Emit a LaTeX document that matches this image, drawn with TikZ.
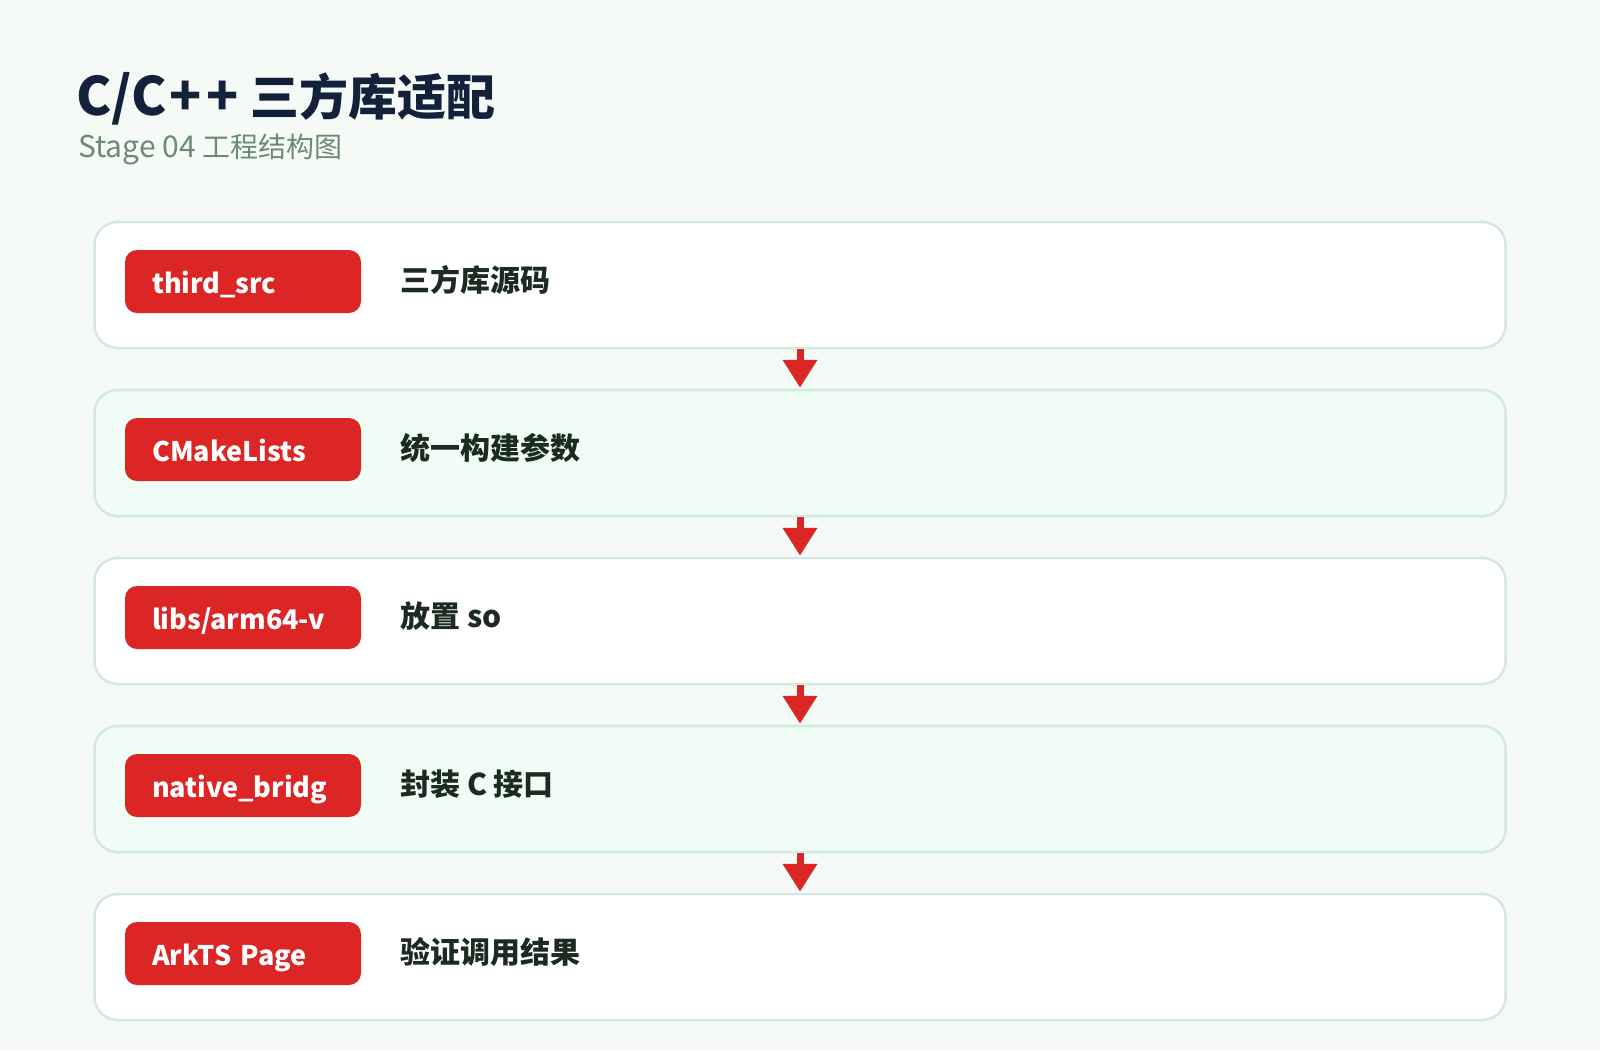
\documentclass[tikz,border=0pt]{standalone}
\usepackage{fontspec}
\setmainfont{Noto Sans CJK SC}
\usetikzlibrary{arrows.meta}
\definecolor{bgc}{HTML}{F5FAF7}
\definecolor{bordc}{HTML}{D4EAE0}
\definecolor{mint}{HTML}{F0FDF7}
\definecolor{redc}{HTML}{DC2626}
\definecolor{titlec}{HTML}{14213A}
\definecolor{subc}{HTML}{6B8A78}
\definecolor{descc}{HTML}{1B2B22}
\tikzset{
  card/.style={draw=bordc, line width=2.5pt, rounded corners=23pt, minimum width=1411pt, minimum height=126pt, inner sep=0pt},
  pill/.style={fill=redc, rounded corners=12pt, text=white, font=\bfseries\fontsize{27}{30}\selectfont,
    inner xsep=27pt, inner ysep=0pt, text width=182pt, align=left, minimum height=63pt, text height=26pt, text depth=3pt},
  desc/.style={anchor=base west, inner sep=0pt, text=descc, font=\bfseries\fontsize{30}{34}\selectfont},
  flow/.style={draw=redc, line width=7pt, -{Triangle[width=33pt,length=28pt]}, shorten >=1pt}
}
\begin{document}
\begin{tikzpicture}[x=1pt,y=-1pt]
\useasboundingbox (0,0) rectangle (1600,1050);
\fill[bgc] (0,0) rectangle (1600,1050);
\node[anchor=base west, inner sep=0pt, text=titlec, font=\bfseries\fontsize{49}{52}\selectfont] (title) at (76,115) {{\fontsize{53}{56}\selectfont C/C\kern3pt+\kern5pt+} 三方库适配};
\node[anchor=base west, inner sep=0pt, text=subc, font=\fontsize{28}{30}\selectfont] (sub) at (78,157) {{\fontsize{30}{32}\selectfont Stage 04} 工程结构图};

\node[card, fill=white] (b1) at (800,285) {};
\node[card, fill=mint]  (b2) at (800,453) {};
\node[card, fill=white] (b3) at (800,621) {};
\node[card, fill=mint]  (b4) at (800,789) {};
\node[card, fill=white] (b5) at (800,957) {};

\node[pill] (p1) at (243,281.5) {third\_src};
\node[pill] (p2) at (243,449.5) {CMakeLists};
\node[pill] (p3) at (243,617.5) {libs/arm64-v};
\node[pill] (p4) at (243,785.5) {native\_bridg};
\node[pill] (p5) at (243,953.5) {ArkTS Page};

\node[desc] (d1) at (400,291.5) {三方库源码};
\node[desc] (d2) at (400,459.5) {统一构建参数};
\node[desc] (d3) at (400,627.5) {放置 so};
\node[desc] (d4) at (400,795.5) {封装 C 接口};
\node[desc] (d5) at (400,963.5) {验证调用结果};

\draw[flow] (b1.south) -- (b2.north);
\draw[flow] (b2.south) -- (b3.north);
\draw[flow] (b3.south) -- (b4.north);
\draw[flow] (b4.south) -- (b5.north);
\end{tikzpicture}
\end{document}
